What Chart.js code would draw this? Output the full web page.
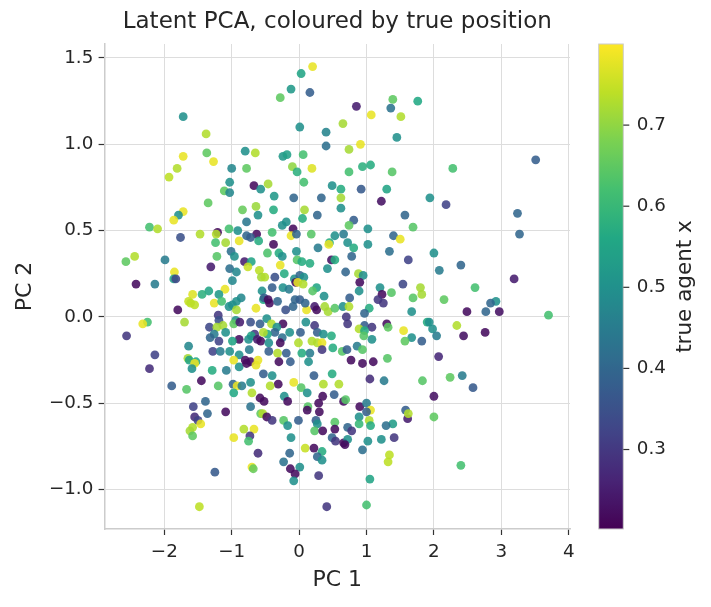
<!DOCTYPE html>
<html><head><meta charset="utf-8">
<script src="https://cdn.jsdelivr.net/npm/chart.js@4.4.1/dist/chart.umd.min.js"></script>
<style>html,body{margin:0;padding:0;background:#fff;overflow:hidden}#wrap{width:711px;height:607px}</style>
</head><body><div id="wrap"><canvas id="c" width="711" height="607" style="width:711px;height:607px"></canvas></div>
<script>
// ---- data ----
const pcX = [
-1.72,-1.38,-1.72,-1.37,-1.27,-1.81,-1.93,-1.00,-0.78,-0.80,-0.65,-1.03,-1.11,-1.03,-0.67,-0.57,
0.20,0.03,-0.12,0.16,-0.28,0.85,1.07,1.39,1.36,1.51,1.76,0.65,0.01,0.40,1.45,0.40,0.91,0.74,-0.24,-0.18,0.06,-0.10,-0.03,0.19,0.74,0.94,1.06,1.38,0.07,-0.46,0.49,0.62,0.92,1.30,-0.37,-0.08,0.33,0.62,
2.28,3.51,1.94,
-1.35,-1.72,-1.79,-1.86,-2.22,-2.10,-0.84,-0.64,-0.61,-0.78,-1.76,-1.47,-1.21,-1.23,-1.04,-0.91,-0.78,-0.63,-0.72,-0.60,-1.24,-1.09,-0.89,-2.44,-2.57,-1.99,-1.22,-1.01,-0.96,-0.81,-0.71,-0.76,-1.31,-1.03,-0.93,-0.59,-0.56,-1.85,-1.86,-1.83,-2.42,-2.14,-0.99,-1.10,-1.34,-1.44,-1.58,-1.19,-1.64,-1.61,-1.55,-1.26,-1.15,-1.04,-0.86,-0.93,-0.99,-0.93,-0.64,-0.55,-0.53,-1.80,-2.25,-2.32,-1.70,-2.56,-1.20,-1.19,-1.33,-1.22,-1.13,-1.26,-1.32,-1.19,-1.09,-0.94,-0.97,-0.88,-0.72,-0.58,-0.66,-0.71,-0.75,-0.62,-0.57,-0.89,-0.99,-1.64,-2.14,-1.28,-1.17,-1.03,-0.89,-0.74,-1.65,-1.63,-1.53,-0.97,-0.80,-0.72,-0.61,
0.08,-0.38,0.05,0.27,0.62,-0.19,-0.25,-0.09,-0.12,-0.04,-0.40,0.18,0.66,-0.38,-0.30,-0.47,-0.25,-0.04,-0.03,0.04,0.16,0.45,0.53,0.44,0.28,0.48,0.53,0.42,-0.28,-0.22,-0.36,-0.51,-0.07,0.01,0.07,-0.05,-0.02,0.06,0.26,0.20,-0.24,-0.15,-0.40,-0.52,-0.44,-0.46,-0.32,-0.06,0.01,-0.09,-0.20,0.11,0.09,0.23,0.26,0.37,0.38,0.43,0.53,0.65,-0.48,-0.41,-0.24,-0.33,-0.36,-0.14,-0.47,-0.53,0.10,0.23,0.27,0.36,0.02,-0.25,-0.28,-0.45,-0.01,0.19,0.27,0.34,0.48,0.50,0.64,0.34,0.16,-0.32,-0.45,-0.19,0.04,-0.30,-0.13,0.14,
1.22,1.57,0.81,0.74,1.02,1.69,1.40,1.50,0.72,0.81,1.02,0.78,1.34,1.62,0.69,0.88,0.95,0.90,0.89,1.20,1.54,1.80,1.82,1.69,1.37,1.23,1.17,1.25,0.75,0.74,1.04,0.97,0.70,0.72,1.67,1.90,1.30,1.32,0.97,1.08,0.89,0.97,1.55,1.67,1.57,1.82,1.08,0.96,0.86,0.94,0.71,1.31,0.77,1.10,0.94,
2.18,3.24,3.27,2.00,2.08,2.40,3.19,2.61,2.15,2.92,2.84,2.49,2.77,2.97,3.70,1.93,1.98,2.04,2.34,2.44,2.76,2.07,
-2.22,-1.89,-1.67,-1.55,-1.59,-1.45,-1.29,-1.20,-1.08,-0.98,-0.92,-0.85,-0.97,-0.72,-0.70,-0.89,-0.78,-0.64,-0.53,-1.39,-1.57,-1.36,-1.55,-1.50,-1.46,-1.58,-1.62,-1.58,-1.09,-0.72,-0.58,-0.57,-0.82,-0.67,-0.73,-0.75,-0.97,-0.61,-0.70,-0.68,-1.25,-1.48,
-0.40,-0.31,-0.43,-0.08,0.03,0.12,0.22,0.36,0.49,0.59,0.35,0.52,0.66,-0.22,-0.17,-0.52,-0.54,-0.48,-0.40,-0.23,-0.17,-0.01,0.13,0.12,0.29,0.30,0.25,0.27,0.23,0.35,0.53,0.53,0.49,0.54,0.66,-0.12,0.09,0.22,0.34,0.27,0.34,-0.14,-0.23,-0.13,0.01,-0.06,-0.08,0.29,0.41,
1.05,1.26,1.83,0.69,0.90,1.00,1.06,1.00,1.04,0.89,0.89,1.06,0.72,0.78,0.72,0.68,1.58,1.61,1.62,1.39,1.29,1.41,1.22,1.02,0.94,1.34,1.32,1.05,1.00,
2.24,2.42,2.58,2.00,2.00,2.40
];
const pcY = [
1.16,1.06,0.93,0.95,0.90,0.86,0.81,0.86,0.86,0.96,0.95,0.78,0.73,0.72,0.76,0.74,
1.45,1.41,1.32,1.30,1.27,1.22,1.17,1.26,1.21,1.16,1.25,1.12,1.10,1.07,1.04,0.99,1.00,0.97,0.93,0.94,0.94,0.87,0.84,0.86,0.84,0.87,0.88,0.84,0.78,0.77,0.76,0.74,0.74,0.74,0.70,0.69,0.69,0.69,
0.86,0.91,0.69,
0.66,0.61,0.59,0.56,0.52,0.51,0.62,0.64,0.59,0.55,0.46,0.48,0.49,0.48,0.51,0.50,0.47,0.48,0.46,0.44,0.43,0.43,0.44,0.35,0.32,0.33,0.35,0.38,0.35,0.32,0.32,0.29,0.29,0.28,0.26,0.27,0.23,0.26,0.22,0.22,0.19,0.19,0.21,0.16,0.15,0.13,0.13,0.13,0.09,0.08,0.07,0.08,0.09,0.06,0.11,0.09,0.07,0.04,0.05,0.15,0.10,0.04,-0.03,-0.04,-0.03,-0.11,0.01,-0.02,-0.06,-0.06,-0.05,-0.10,-0.12,-0.14,-0.09,-0.02,-0.04,-0.03,-0.03,-0.04,-0.10,-0.11,-0.13,-0.13,-0.14,-0.13,-0.14,-0.17,-0.22,-0.20,-0.20,-0.20,-0.22,-0.19,-0.24,-0.25,-0.26,-0.25,-0.25,-0.26,-0.25,
0.62,0.62,0.57,0.59,0.63,0.55,0.53,0.51,0.47,0.48,0.49,0.48,0.48,0.42,0.37,0.37,0.35,0.38,0.33,0.32,0.31,0.43,0.47,0.42,0.40,0.33,0.33,0.28,0.30,0.25,0.23,0.23,0.22,0.24,0.23,0.20,0.20,0.19,0.17,0.15,0.17,0.16,0.17,0.11,0.08,0.10,0.09,0.10,0.10,0.06,0.04,0.04,0.08,0.06,0.04,0.12,0.06,0.03,0.05,0.06,-0.01,-0.04,-0.04,-0.06,-0.09,-0.09,-0.10,-0.09,-0.03,-0.05,-0.09,-0.10,-0.09,-0.12,-0.15,-0.15,-0.15,-0.14,-0.15,-0.15,-0.11,-0.18,-0.20,-0.19,-0.21,-0.21,-0.20,-0.21,-0.21,-0.26,-0.26,-0.26,
0.67,0.59,0.56,0.53,0.51,0.52,0.47,0.45,0.43,0.40,0.42,0.35,0.38,0.33,0.26,0.25,0.24,0.20,0.15,0.17,0.19,0.17,0.13,0.11,0.14,0.13,0.10,0.08,0.11,0.06,0.05,0.02,0.00,-0.04,0.03,-0.03,-0.04,-0.06,-0.05,-0.06,-0.07,-0.08,-0.08,-0.12,-0.14,-0.14,-0.13,-0.11,-0.17,-0.19,-0.19,-0.24,-0.25,-0.26,-0.27,
0.65,0.60,0.48,0.37,0.27,0.30,0.22,0.17,0.10,0.09,0.08,0.03,0.03,0.03,0.01,-0.03,-0.07,-0.11,-0.05,-0.11,-0.09,-0.23,
-0.30,-0.40,-0.42,-0.27,-0.30,-0.37,-0.31,-0.40,-0.31,-0.39,-0.40,-0.40,-0.44,-0.38,-0.44,-0.29,-0.27,-0.28,-0.33,-0.49,-0.52,-0.56,-0.58,-0.60,-0.62,-0.64,-0.66,-0.69,-0.55,-0.52,-0.47,-0.56,-0.65,-0.65,-0.69,-0.72,-0.70,-0.79,-0.87,-0.88,-0.90,-1.10,
-0.34,-0.39,-0.40,-0.38,-0.41,-0.44,-0.34,-0.39,-0.33,-0.39,-0.46,-0.45,-0.49,-0.46,-0.49,-0.49,-0.56,-0.58,-0.60,-0.60,-0.63,-0.60,-0.52,-0.54,-0.50,-0.55,-0.60,-0.62,-0.66,-0.66,-0.61,-0.65,-0.70,-0.72,-0.73,-0.70,-0.76,-0.76,-0.78,-0.81,-0.83,-0.79,-0.84,-0.88,-0.87,-0.91,-0.95,-0.92,-1.10,
-0.36,-0.37,-0.37,-0.48,-0.52,-0.50,-0.54,-0.55,-0.60,-0.58,-0.62,-0.63,-0.64,-0.66,-0.71,-0.74,-0.54,-0.59,-0.56,-0.62,-0.63,-0.70,-0.71,-0.72,-0.77,-0.80,-0.84,-0.94,-1.09,
-0.35,-0.34,-0.41,-0.46,-0.58,-0.86
];
const trueX = [
0.50,0.73,0.78,0.65,0.78,0.73,0.74,0.48,0.65,0.50,0.73,0.50,0.65,0.48,0.22,0.50,
0.78,0.55,0.52,0.38,0.65,0.25,0.78,0.65,0.43,0.73,0.56,0.72,0.50,0.47,0.50,0.42,0.78,0.72,0.52,0.54,0.62,0.70,0.58,0.77,0.62,0.58,0.57,0.64,0.62,0.72,0.50,0.57,0.37,0.55,0.52,0.40,0.40,0.72,
0.62,0.38,0.50,
0.65,0.78,0.50,0.78,0.62,0.73,0.66,0.71,0.50,0.44,0.35,0.73,0.22,0.73,0.62,0.50,0.40,0.22,0.38,0.57,0.62,0.72,0.78,0.73,0.65,0.45,0.64,0.42,0.50,0.25,0.55,0.75,0.25,0.42,0.48,0.74,0.72,0.78,0.55,0.33,0.22,0.45,0.48,0.78,0.55,0.58,0.77,0.52,0.75,0.74,0.74,0.78,0.62,0.50,0.48,0.50,0.50,0.72,0.78,0.50,0.56,0.22,0.62,0.78,0.72,0.30,0.30,0.35,0.33,0.72,0.72,0.45,0.40,0.32,0.50,0.50,0.65,0.25,0.35,0.38,0.30,0.55,0.50,0.25,0.22,0.22,0.55,0.48,0.32,0.32,0.45,0.50,0.50,0.45,0.72,0.55,0.56,0.78,0.22,0.22,0.78,
0.72,0.57,0.57,0.40,0.50,0.50,0.50,0.22,0.78,0.40,0.62,0.64,0.45,0.22,0.57,0.63,0.50,0.50,0.64,0.57,0.57,0.57,0.50,0.78,0.45,0.23,0.57,0.50,0.78,0.57,0.35,0.73,0.50,0.40,0.50,0.22,0.78,0.73,0.55,0.64,0.50,0.45,0.38,0.38,0.22,0.22,0.40,0.40,0.38,0.40,0.35,0.78,0.40,0.25,0.22,0.50,0.72,0.72,0.64,0.50,0.50,0.73,0.22,0.50,0.40,0.50,0.56,0.73,0.50,0.30,0.38,0.50,0.38,0.42,0.22,0.50,0.73,0.73,0.73,0.78,0.57,0.57,0.64,0.30,0.45,0.73,0.38,0.38,0.57,0.22,0.38,0.50,
0.23,0.40,0.38,0.65,0.50,0.64,0.40,0.78,0.50,0.57,0.50,0.40,0.42,0.32,0.40,0.72,0.50,0.22,0.50,0.50,0.33,0.72,0.72,0.64,0.64,0.22,0.30,0.30,0.38,0.73,0.57,0.40,0.30,0.30,0.50,0.57,0.22,0.65,0.38,0.30,0.73,0.57,0.78,0.50,0.65,0.38,0.50,0.64,0.45,0.64,0.38,0.64,0.22,0.22,0.22,
0.32,0.40,0.40,0.50,0.45,0.40,0.25,0.62,0.65,0.50,0.40,0.22,0.40,0.23,0.62,0.50,0.50,0.45,0.73,0.23,0.22,0.27,
0.28,0.38,0.64,0.78,0.50,0.22,0.57,0.64,0.45,0.40,0.78,0.45,0.56,0.50,0.73,0.50,0.22,0.78,0.38,0.40,0.32,0.40,0.28,0.32,0.78,0.73,0.72,0.65,0.22,0.43,0.22,0.65,0.73,0.78,0.30,0.62,0.78,0.28,0.78,0.66,0.37,0.74,
0.50,0.22,0.73,0.78,0.64,0.50,0.38,0.73,0.57,0.73,0.22,0.38,0.22,0.50,0.22,0.22,0.73,0.22,0.30,0.64,0.50,0.38,0.64,0.22,0.22,0.22,0.38,0.50,0.64,0.22,0.64,0.22,0.40,0.30,0.22,0.50,0.75,0.22,0.57,0.40,0.50,0.40,0.43,0.22,0.50,0.22,0.50,0.30,0.30,
0.28,0.45,0.64,0.64,0.22,0.45,0.78,0.38,0.73,0.50,0.60,0.57,0.40,0.30,0.50,0.22,0.38,0.25,0.73,0.53,0.42,0.30,0.50,0.50,0.42,0.74,0.74,0.55,0.62,
0.65,0.45,0.37,0.23,0.65,0.62
];
const xTickValues = [-2, -1, 0, 1, 2, 3, 4];
const yTickValues = [-1.0, -0.5, 0.0, 0.5, 1.0, 1.5];
const cbTickValues = [0.3, 0.4, 0.5, 0.6, 0.7];
const titleText = 'Latent PCA, coloured by true position';
const xLabel = 'PC 1';
const yLabel = 'PC 2';
const cbLabel = 'true agent x';

// ---- style ----
const FONT = "'DejaVu Sans', 'Liberation Sans', sans-serif";
const TXT = '#262626';
const VMIN = 0.202, VMAX = 0.800;
const VIRIDIS = ['#440154','#482475','#414487','#355f8d','#2a788e','#21918c','#22a884','#44bf70','#7ad151','#bddf26','#fde725'];
function hex2rgb(h){return [parseInt(h.slice(1,3),16),parseInt(h.slice(3,5),16),parseInt(h.slice(5,7),16)];}
const VIR_RGB = VIRIDIS.map(hex2rgb);
function viridis(t, a){
  t = Math.max(0, Math.min(1, t));
  const f = t * (VIR_RGB.length - 1), i = Math.min(Math.floor(f), VIR_RGB.length - 2), r = f - i;
  const c0 = VIR_RGB[i], c1 = VIR_RGB[i+1];
  const c = c0.map((v,k)=>Math.round(v + (c1[k]-v)*r));
  return `rgba(${c[0]},${c[1]},${c[2]},${a})`;
}
const fmt = v => String(v).replace('-', '\u2212');

const points = pcX.map((x, i) => ({x: x, y: pcY[i]}));
const colours = trueX.map(v => viridis((v - VMIN) / (VMAX - VMIN), 0.88));

const colorbarPlugin = {
  id: 'colorbar',
  afterDraw(chart) {
    const ctx = chart.ctx, cb = chart.scales.cb;
    const top = cb.getPixelForValue(VMAX), bot = cb.getPixelForValue(VMIN);
    const x0 = 598.7, w = 24.6;
    ctx.save();
    const g = ctx.createLinearGradient(0, bot, 0, top);
    for (let i = 0; i <= 40; i++) { const t = i / 40; g.addColorStop(t, viridis(t, 1)); }
    ctx.fillStyle = g;
    ctx.fillRect(x0, top, w, bot - top);
    ctx.strokeStyle = '#cccccc'; ctx.lineWidth = 1;
    ctx.strokeRect(x0, top, w, bot - top);
    ctx.strokeStyle = '#333333'; ctx.lineWidth = 1.2;
    ctx.fillStyle = TXT;
    ctx.font = `18.3px ${FONT}`;
    ctx.textAlign = 'left'; ctx.textBaseline = 'middle';
    cbTickValues.forEach(v => {
      const y = cb.getPixelForValue(v);
      ctx.beginPath(); ctx.moveTo(x0 + w, y); ctx.lineTo(x0 + w + 6, y); ctx.stroke();
      ctx.fillText(v.toFixed(1), x0 + w + 13.5, y);
    });
    ctx.translate(685, (top + bot) / 2);
    ctx.rotate(-Math.PI / 2);
    ctx.textAlign = 'center';
    ctx.font = `21.5px ${FONT}`;
    ctx.fillText(cbLabel, 0, 0);
    ctx.restore();
  }
};

Chart.defaults.font.family = FONT;
Chart.defaults.color = TXT;

new Chart(document.getElementById('c'), {
  type: 'scatter',
  data: { datasets: [{
    data: points,
    pointBackgroundColor: colours,
    pointBorderWidth: 0,
    pointRadius: 4.4,
    pointHoverRadius: 4.4
  }]},
  options: {
    responsive: false,
    animation: false,
    devicePixelRatio: 1,
    events: [],
    layout: { padding: { left: 0, right: 141, top: 0, bottom: 0 } },
    plugins: {
      legend: { display: false },
      tooltip: { enabled: false },
      title: {
        display: true, text: titleText, color: TXT, fullSize: false,
        font: { family: FONT, size: 23, weight: 'normal' },
        padding: { top: 8, bottom: 8.4 }
      }
    },
    scales: {
      x: {
        type: 'linear', position: 'bottom', min: -2.886, max: 4.019,
        afterBuildTicks: s => { s.ticks = xTickValues.map(v => ({value: v})); },
        afterFit: s => { s.height = 78; },
        ticks: { font: { size: 18.3 }, color: TXT, padding: 6.5, maxRotation: 0, callback: v => fmt(v) },
        grid: { color: '#dddddd', lineWidth: 1, drawTicks: true, tickLength: 6, tickColor: '#333333', tickWidth: 1.2 },
        border: { display: true, color: '#cccccc', width: 1.5 },
        title: { display: true, text: xLabel, color: TXT, font: { size: 22 }, padding: { top: 0, bottom: 13.8 } }
      },
      y: {
        type: 'linear', position: 'left', min: -1.229, max: 1.581,
        afterBuildTicks: s => { s.ticks = yTickValues.map(v => ({value: v})); },
        afterFit: s => { s.width = 104.6; },
        ticks: { font: { size: 18.3 }, color: TXT, padding: 5.3, callback: v => fmt(Number(v).toFixed(1)) },
        grid: { color: '#dddddd', lineWidth: 1, drawTicks: true, tickLength: 6, tickColor: '#333333', tickWidth: 1.2 },
        border: { display: true, color: '#cccccc', width: 1.5 },
        title: { display: true, text: yLabel, color: TXT, font: { size: 22 }, padding: { top: 11.8, bottom: 0 } }
      },
      cb: {
        type: 'linear', position: 'right', display: false, min: VMIN, max: VMAX
      }
    }
  },
  plugins: [colorbarPlugin]
});
</script>
</body></html>
